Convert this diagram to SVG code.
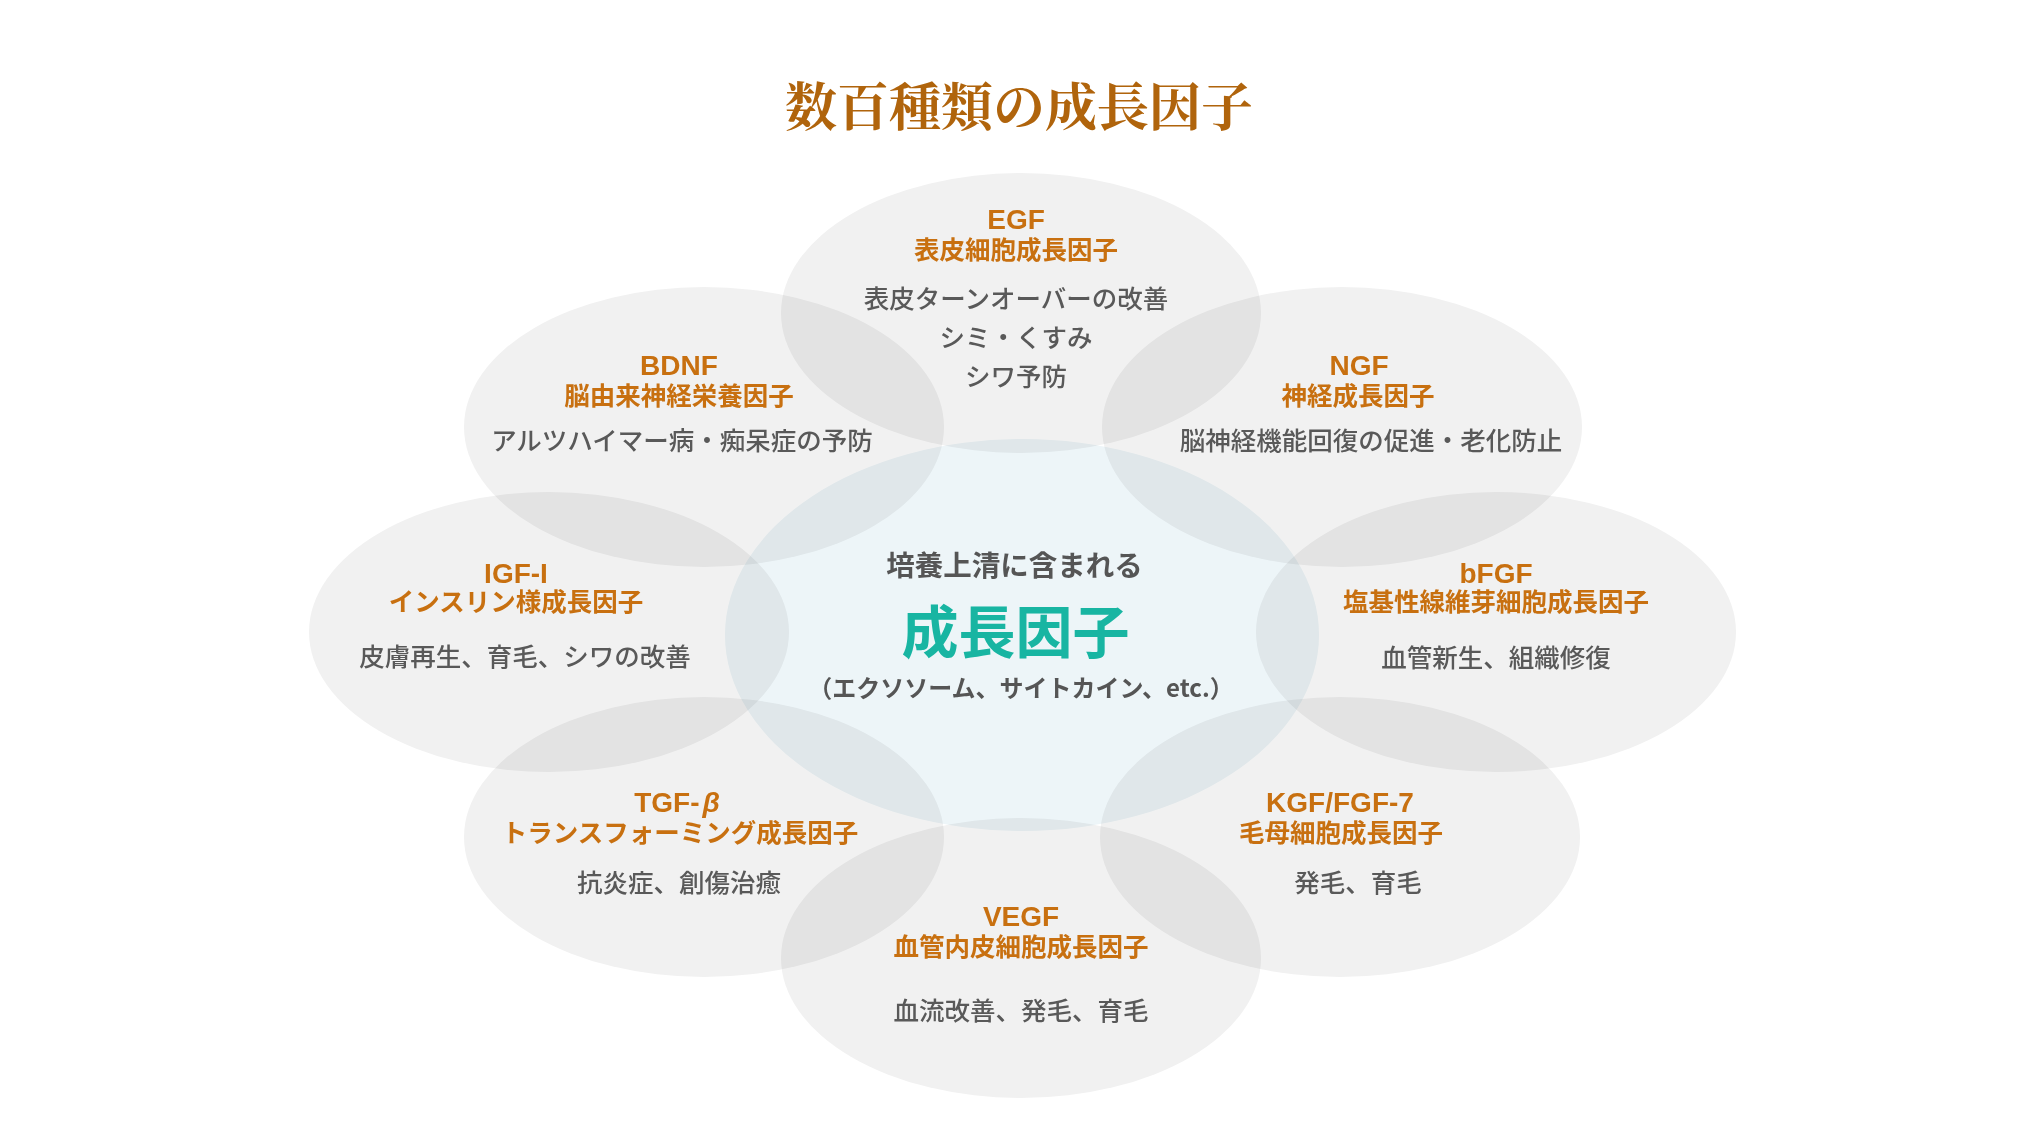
<svg xmlns="http://www.w3.org/2000/svg" width="2028" height="1130" viewBox="0 0 2028 1130">
<style>
.bub{fill:#f1f1f1;mix-blend-mode:multiply}
.core{fill:#edf5f8;mix-blend-mode:multiply}
text{font-family:"Noto Sans CJK JP","Noto Sans",sans-serif;text-anchor:middle}
.nm{font-family:"Liberation Sans","Noto Sans CJK JP",sans-serif;font-size:28px;font-weight:700;fill:#c87010}
.sb{font-size:25.5px;font-weight:700;fill:#c87010}
.ds{font-size:25.5px;font-weight:500;fill:#595959}
.title{font-family:"Noto Serif CJK JP","Noto Sans CJK JP",serif;font-size:52px;font-weight:700;fill:#b0640c}
</style>
<rect width="2028" height="1130" fill="#ffffff"/>
<text class="title" x="1019" y="126">数百種類の成長因子</text>
<g id="center">
<ellipse class="core" cx="1022" cy="635" rx="297" ry="196"/>
</g>
<g id="egf">
<ellipse class="bub" cx="1021" cy="313" rx="240" ry="140"/>
</g>
<g id="bdnf">
<ellipse class="bub" cx="704" cy="427" rx="240" ry="140"/>
</g>
<g id="ngf">
<ellipse class="bub" cx="1342" cy="427" rx="240" ry="140"/>
</g>
<g id="igf">
<ellipse class="bub" cx="549" cy="632" rx="240" ry="140"/>
</g>
<g id="bfgf">
<ellipse class="bub" cx="1496" cy="632" rx="240" ry="140"/>
</g>
<g id="tgf">
<ellipse class="bub" cx="704" cy="837" rx="240" ry="140"/>
</g>
<g id="kgf">
<ellipse class="bub" cx="1340" cy="837" rx="240" ry="140"/>
</g>
<g id="vegf">
<ellipse class="bub" cx="1021" cy="958" rx="240" ry="140"/>
</g>
<g id="center-text">
<text x="1014.5" y="576" style="font-size:28.5px;font-weight:700;fill:#555555">培養上清に含まれる</text>
<text x="1015.5" y="653" style="font-size:57px;font-weight:700;fill:#18b5a2">成長因子</text>
<text x="1021" y="697" style="font-size:24px;font-weight:700;fill:#555555">（エクソソーム、サイトカイン、etc.）</text>
</g>
<g id="egf-text">
<text class="nm" x="1016" y="229">EGF</text>
<text class="sb" x="1016" y="259">表皮細胞成長因子</text>
<text class="ds" x="1016" y="308">表皮ターンオーバーの改善</text>
<text class="ds" x="1016" y="347">シミ・くすみ</text>
<text class="ds" x="1016" y="386">シワ予防</text>
</g>
<g id="bdnf-text">
<text class="nm" x="679" y="375">BDNF</text>
<text class="sb" x="679" y="405">脳由来神経栄養因子</text>
<text class="ds" x="682" y="450">アルツハイマー病・痴呆症の予防</text>
</g>
<g id="ngf-text">
<text class="nm" x="1359" y="375">NGF</text>
<text class="sb" x="1358" y="405">神経成長因子</text>
<text class="ds" x="1371" y="450">脳神経機能回復の促進・老化防止</text>
</g>
<g id="igf-text">
<text class="nm" x="516" y="583">IGF-I</text>
<text class="sb" x="516" y="611">インスリン様成長因子</text>
<text class="ds" x="525" y="666">皮膚再生、育毛、シワの改善</text>
</g>
<g id="bfgf-text">
<text class="nm" x="1496" y="583">bFGF</text>
<text class="sb" x="1496" y="611">塩基性線維芽細胞成長因子</text>
<text class="ds" x="1496" y="667">血管新生、組織修復</text>
</g>
<g id="tgf-text">
<text class="nm" x="677" y="812">TGF-<tspan dx="3" font-style="italic">β</tspan></text>
<text class="sb" x="680" y="842">トランスフォーミング成長因子</text>
<text class="ds" x="679" y="892">抗炎症、創傷治癒</text>
</g>
<g id="kgf-text">
<text class="nm" x="1340" y="812">KGF/FGF-7</text>
<text class="sb" x="1341" y="842">毛母細胞成長因子</text>
<text class="ds" x="1358" y="892">発毛、育毛</text>
</g>
<g id="vegf-text">
<text class="nm" x="1021" y="926">VEGF</text>
<text class="sb" x="1021" y="956">血管内皮細胞成長因子</text>
<text class="ds" x="1021" y="1020">血流改善、発毛、育毛</text>
</g>
</svg>
